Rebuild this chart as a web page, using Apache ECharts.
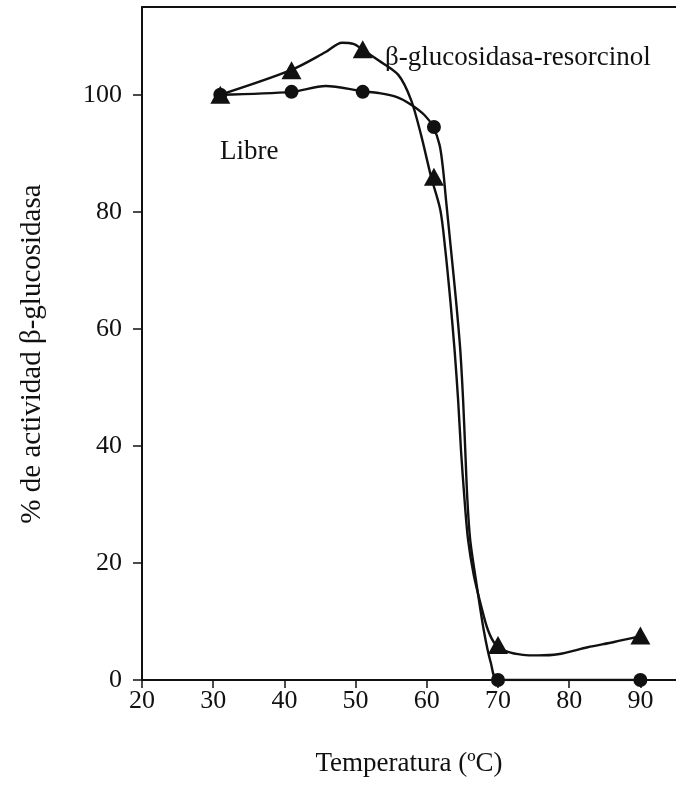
<!DOCTYPE html>
<html><head><meta charset="utf-8">
<script src="https://cdn.jsdelivr.net/npm/echarts@6/dist/echarts.min.js"></script>
<style>html,body{margin:0;padding:0;background:#fff}#c{width:676px;height:787px}</style>
</head><body><div id="c"></div><script>
// Measured points (temperature °C, % activity)
const temps = [31, 41, 51, 61, 70, 90];
const libre = [100, 100.5, 100.5, 94.5, 0, 0];
const resorcinol = [100, 104.2, 107.8, 86, 6, 7.6];

// Hand-drawn fitted curves
const libreCurveX = [31, 41, 45.8, 51, 53.2, 55.8, 57.8, 59.7, 60.9, 61.8, 62.3, 62.7, 63.4, 64.1, 64.7, 65.1, 65.4, 65.7, 66.1, 66.9, 68.0, 69.0, 70.0, 90];
const libreCurveY = [100, 100.5, 101.5, 100.6, 100.3, 99.6, 98.3, 96.5, 94.5, 91.4, 87.1, 82.0, 73.5, 64.9, 56.4, 47.8, 39.3, 30.8, 23.9, 17.1, 8.5, 2.9, 0, 0];
const resCurveX = [31, 40.9, 45.8, 48.1, 49.7, 50.9, 53.2, 56.0, 57.8, 59.2, 60.6, 61.9, 62.6, 63.3, 63.9, 64.4, 64.8, 65.3, 65.8, 66.6, 67.6, 68.6, 69.7, 71.4, 73.5, 75.6, 78.4, 82.6, 86.3, 90.0];
const resCurveY = [100, 104.2, 107.3, 108.9, 108.7, 107.8, 105.9, 103.4, 99.1, 93.1, 86.0, 80.3, 73.5, 64.9, 56.4, 47.8, 39.3, 30.8, 23.9, 17.9, 12.8, 8.5, 6.0, 4.8, 4.3, 4.2, 4.4, 5.6, 6.5, 7.5];

const xTicks = [20, 30, 40, 50, 60, 70, 80, 90];
const yTicks = [0, 20, 40, 60, 80, 100];

const zip = (a, b) => a.map((v, i) => [v, b[i]]);
const ink = '#111111';
const font = '"Liberation Serif", "DejaVu Serif", serif';

const chart = echarts.init(document.getElementById('c'), null, {renderer: 'canvas'});
chart.setOption({
  animation: false,
  backgroundColor: '#ffffff',
  grid: {left: 142, top: 7, width: 537, height: 673, show: false},
  xAxis: [{
    type: 'value', min: 20, max: 95,
    axisLine: {show: true, lineStyle: {color: ink, width: 2}},
    axisTick: {show: true, length: 8, customValues: xTicks, lineStyle: {color: ink, width: 1.5}},
    axisLabel: {customValues: xTicks, color: ink, fontFamily: font, fontSize: 26, margin: 8},
    splitLine: {show: false},
    name: 'Temperatura (ºC)', nameLocation: 'middle', nameGap: 70,
    nameTextStyle: {color: ink, fontFamily: font, fontSize: 27}
  }, {
    type: 'value', min: 20, max: 95, position: 'top',
    axisLine: {show: true, lineStyle: {color: ink, width: 2}},
    axisTick: {show: false}, axisLabel: {show: false}, splitLine: {show: false}
  }],
  yAxis: {
    type: 'value', min: 0, max: 115,
    axisLine: {show: true, lineStyle: {color: ink, width: 2}},
    axisTick: {show: true, length: 9, customValues: yTicks, lineStyle: {color: ink, width: 1.5}},
    axisLabel: {customValues: yTicks, color: ink, fontFamily: font, fontSize: 26, margin: 20},
    splitLine: {show: false}
  },
  graphic: [
    {type: 'text', x: 32, y: 354, rotation: Math.PI / 2,
     style: {text: '% de actividad β-glucosidasa', fill: ink, font: '29px ' + font, textAlign: 'center', textVerticalAlign: 'middle'}},
    {type: 'text', x: 385, y: 58,
     style: {text: 'β-glucosidasa-resorcinol', fill: ink, font: '27px ' + font, textAlign: 'left', textVerticalAlign: 'middle'}},
    {type: 'text', x: 220, y: 152,
     style: {text: 'Libre', fill: ink, font: '27px ' + font, textAlign: 'left', textVerticalAlign: 'middle'}}
  ],
  series: [
    {type: 'line', data: zip(libreCurveX, libreCurveY), smooth: 0.3, showSymbol: false,
     lineStyle: {color: ink, width: 2.4}, z: 2, silent: true},
    {type: 'line', data: zip(resCurveX, resCurveY), smooth: 0.3, showSymbol: false,
     lineStyle: {color: ink, width: 2.4}, z: 2, silent: true},
    {type: 'scatter', data: zip(temps, libre), symbol: 'circle', symbolSize: 14,
     itemStyle: {color: ink, opacity: 1}, z: 3},
    {type: 'scatter', data: zip(temps, resorcinol), symbol: 'triangle', symbolSize: [20, 18],
     itemStyle: {color: ink, opacity: 1}, z: 4}
  ]
});
</script></body></html>
